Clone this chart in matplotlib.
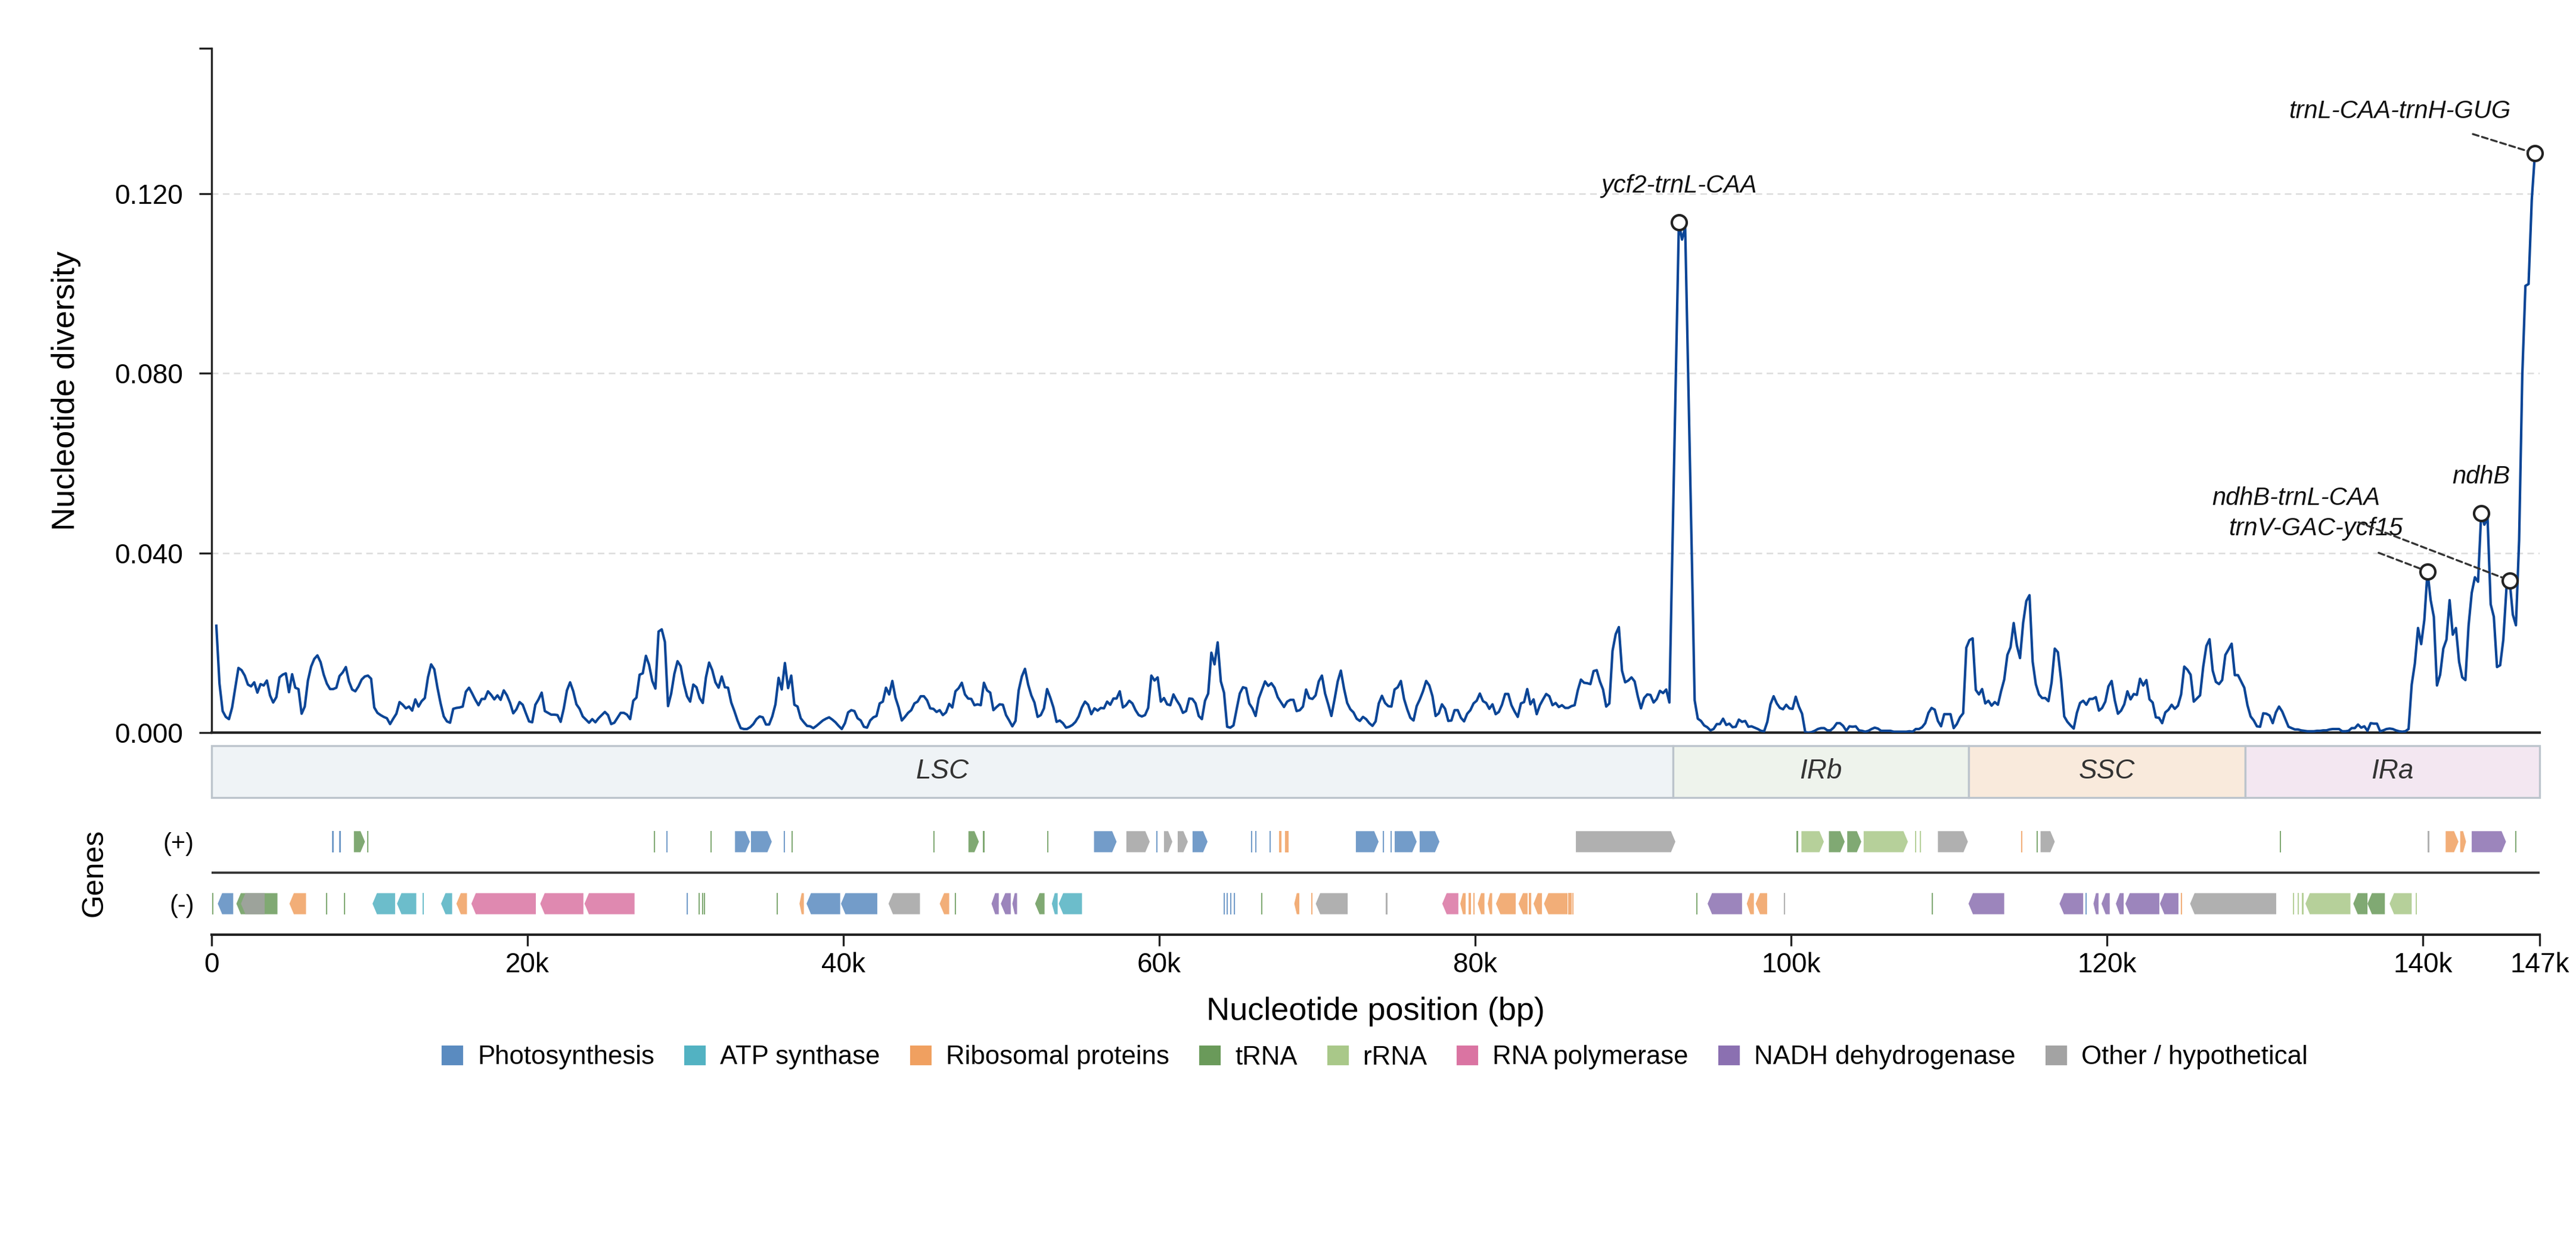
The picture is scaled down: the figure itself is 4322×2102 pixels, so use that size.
import numpy as np
import matplotlib
matplotlib.use("Agg")
import matplotlib.pyplot as plt
from matplotlib.patches import Polygon, Rectangle, Patch

plt.rcParams['font.family'] = ['Liberation Sans', 'DejaVu Sans']

# ---------------- data ----------------
genome_len = 147400
win_start = 300
win_step = 200

# nucleotide diversity per window (pi)
pi_values = [
    # 0.3k - 24.5k
    0.0238, 0.0109, 0.0048, 0.0035, 0.0030, 0.0056, 0.0100, 0.0144, 0.0139, 0.0127,
    0.0107, 0.0103, 0.0112, 0.0089, 0.0108, 0.0105, 0.0116, 0.0083, 0.0067, 0.0079,
    0.0123, 0.0129, 0.0132, 0.0090, 0.0130, 0.0100, 0.0097, 0.0042, 0.0058, 0.0116,
    0.0147, 0.0164, 0.0172, 0.0157, 0.0129, 0.0109, 0.0097, 0.0097, 0.0100, 0.0126,
    0.0134, 0.0146, 0.0114, 0.0096, 0.0092, 0.0103, 0.0118, 0.0125, 0.0127, 0.0120,
    0.0056, 0.0044, 0.0039, 0.0035, 0.0032, 0.0019, 0.0031, 0.0042, 0.0068, 0.0062,
    0.0054, 0.0058, 0.0049, 0.0074, 0.0058, 0.0070, 0.0077, 0.0123, 0.0152, 0.0141,
    0.0100, 0.0065, 0.0036, 0.0025, 0.0022, 0.0053, 0.0055, 0.0056, 0.0058, 0.0091,
    0.0100, 0.0087, 0.0073, 0.0061, 0.0075, 0.0075, 0.0092, 0.0084, 0.0074, 0.0083,
    0.0073, 0.0094, 0.0083, 0.0066, 0.0043, 0.0052, 0.0068, 0.0062, 0.0043, 0.0025,
    0.0023, 0.0062, 0.0074, 0.0089, 0.0048, 0.0044, 0.0040, 0.0040, 0.0039, 0.0024,
    0.0054, 0.0094, 0.0112, 0.0092, 0.0063, 0.0053, 0.0036, 0.0029, 0.0022, 0.0030,
    0.0023, 0.0032,
    # 24.7k - 49.1k
    0.0039, 0.0046, 0.0039, 0.0019, 0.0022, 0.0033, 0.0044, 0.0044, 0.0040, 0.0030,
    0.0071, 0.0078, 0.0129, 0.0132, 0.0171, 0.0151, 0.0115, 0.0098, 0.0225, 0.0230,
    0.0202, 0.0059, 0.0087, 0.0131, 0.0159, 0.0148, 0.0109, 0.0081, 0.0069, 0.0107,
    0.0101, 0.0077, 0.0066, 0.0123, 0.0156, 0.0139, 0.0112, 0.0100, 0.0125, 0.0101,
    0.0100, 0.0067, 0.0048, 0.0027, 0.0010, 0.0008, 0.0008, 0.0012, 0.0019, 0.0030,
    0.0036, 0.0034, 0.0018, 0.0018, 0.0036, 0.0063, 0.0122, 0.0096, 0.0155, 0.0099,
    0.0127, 0.0062, 0.0058, 0.0032, 0.0023, 0.0015, 0.0014, 0.0010, 0.0015, 0.0021,
    0.0027, 0.0031, 0.0034, 0.0029, 0.0023, 0.0015, 0.0008, 0.0021, 0.0045, 0.0050,
    0.0048, 0.0032, 0.0027, 0.0013, 0.0011, 0.0027, 0.0034, 0.0037, 0.0065, 0.0069,
    0.0100, 0.0085, 0.0115, 0.0078, 0.0056, 0.0027, 0.0035, 0.0044, 0.0050, 0.0065,
    0.0069, 0.0081, 0.0081, 0.0072, 0.0054, 0.0053, 0.0046, 0.0050, 0.0039, 0.0045,
    0.0064, 0.0056, 0.0092, 0.0099, 0.0111, 0.0085, 0.0076, 0.0075, 0.0061, 0.0063,
    0.0061, 0.0111, 0.0094,
    # 49.3k - 73.5k
    0.0089, 0.0050, 0.0057, 0.0063, 0.0062, 0.0039, 0.0027, 0.0014, 0.0026, 0.0094,
    0.0125, 0.0142, 0.0107, 0.0083, 0.0067, 0.0035, 0.0039, 0.0054, 0.0097, 0.0078,
    0.0056, 0.0024, 0.0027, 0.0021, 0.0011, 0.0013, 0.0017, 0.0024, 0.0036, 0.0056,
    0.0069, 0.0062, 0.0041, 0.0054, 0.0049, 0.0055, 0.0054, 0.0069, 0.0062, 0.0076,
    0.0076, 0.0092, 0.0056, 0.0061, 0.0071, 0.0065, 0.0050, 0.0039, 0.0036, 0.0039,
    0.0055, 0.0127, 0.0116, 0.0123, 0.0069, 0.0077, 0.0063, 0.0061, 0.0085, 0.0072,
    0.0061, 0.0044, 0.0048, 0.0076, 0.0075, 0.0065, 0.0037, 0.0030, 0.0071, 0.0087,
    0.0178, 0.0152, 0.0201, 0.0114, 0.0089, 0.0013, 0.0011, 0.0016, 0.0052, 0.0087,
    0.0101, 0.0099, 0.0065, 0.0054, 0.0037, 0.0076, 0.0095, 0.0114, 0.0104, 0.0110,
    0.0100, 0.0079, 0.0068, 0.0057, 0.0069, 0.0073, 0.0073, 0.0048, 0.0050, 0.0058,
    0.0096, 0.0077, 0.0075, 0.0083, 0.0114, 0.0127, 0.0087, 0.0063, 0.0037, 0.0074,
    0.0114, 0.0138, 0.0098, 0.0066, 0.0052, 0.0045, 0.0031, 0.0026, 0.0035, 0.0030,
    0.0021, 0.0015,
    # 73.7k - 98.1k
    0.0025, 0.0065, 0.0082, 0.0066, 0.0059, 0.0058, 0.0096, 0.0101, 0.0115, 0.0075,
    0.0052, 0.0033, 0.0027, 0.0059, 0.0074, 0.0092, 0.0115, 0.0105, 0.0081, 0.0037,
    0.0043, 0.0063, 0.0053, 0.0026, 0.0027, 0.0050, 0.0050, 0.0033, 0.0025, 0.0042,
    0.0050, 0.0065, 0.0071, 0.0087, 0.0070, 0.0066, 0.0053, 0.0063, 0.0041, 0.0046,
    0.0062, 0.0086, 0.0086, 0.0061, 0.0047, 0.0035, 0.0065, 0.0068, 0.0097, 0.0063,
    0.0074, 0.0041, 0.0061, 0.0074, 0.0086, 0.0081, 0.0061, 0.0066, 0.0057, 0.0061,
    0.0055, 0.0055, 0.0059, 0.0061, 0.0094, 0.0118, 0.0111, 0.0110, 0.0108, 0.0137,
    0.0139, 0.0114, 0.0096, 0.0058, 0.0065, 0.0182, 0.0219, 0.0235, 0.0138, 0.0112,
    0.0116, 0.0123, 0.0114, 0.0081, 0.0054, 0.0077, 0.0085, 0.0084, 0.0067, 0.0075,
    0.0093, 0.0088, 0.0096, 0.0067, 0.0420, 0.0780, 0.1136, 0.1098, 0.1125, 0.0780,
    0.0430, 0.0072, 0.0031, 0.0026, 0.0016, 0.0012, 0.0005, 0.0008, 0.0019, 0.0019,
    0.0031, 0.0017, 0.0020, 0.0012, 0.0013, 0.0029, 0.0024, 0.0026, 0.0013, 0.0014,
    0.0011, 0.0008, 0.0004,
    # 98.3k - 122.7k
    0.0003, 0.0024, 0.0063, 0.0081, 0.0065, 0.0055, 0.0052, 0.0062, 0.0054, 0.0053,
    0.0080, 0.0058, 0.0042, 0.0001, 0.0000, 0.0001, 0.0004, 0.0008, 0.0010, 0.0010,
    0.0005, 0.0005, 0.0011, 0.0021, 0.0021, 0.0015, 0.0004, 0.0014, 0.0013, 0.0014,
    0.0005, 0.0004, 0.0002, 0.0004, 0.0008, 0.0011, 0.0009, 0.0004, 0.0004, 0.0004,
    0.0004, 0.0002, 0.0002, 0.0002, 0.0002, 0.0002, 0.0003, 0.0002, 0.0008, 0.0008,
    0.0012, 0.0021, 0.0044, 0.0055, 0.0051, 0.0026, 0.0014, 0.0041, 0.0041, 0.0041,
    0.0010, 0.0019, 0.0034, 0.0043, 0.0189, 0.0206, 0.0210, 0.0095, 0.0085, 0.0097,
    0.0065, 0.0071, 0.0060, 0.0068, 0.0062, 0.0092, 0.0118, 0.0173, 0.0190, 0.0244,
    0.0194, 0.0166, 0.0245, 0.0293, 0.0306, 0.0158, 0.0108, 0.0085, 0.0077, 0.0077,
    0.0070, 0.0112, 0.0187, 0.0179, 0.0118, 0.0036, 0.0024, 0.0016, 0.0009, 0.0044,
    0.0066, 0.0071, 0.0062, 0.0075, 0.0075, 0.0079, 0.0049, 0.0055, 0.0069, 0.0103,
    0.0115, 0.0072, 0.0042, 0.0049, 0.0063, 0.0092, 0.0074, 0.0086, 0.0084, 0.0120,
    0.0105, 0.0117, 0.0074,
    # 122.9k - 147.1k
    0.0067, 0.0034, 0.0033, 0.0021, 0.0045, 0.0051, 0.0062, 0.0053, 0.0060, 0.0085,
    0.0147, 0.0140, 0.0129, 0.0069, 0.0076, 0.0083, 0.0147, 0.0193, 0.0208, 0.0138,
    0.0113, 0.0108, 0.0117, 0.0173, 0.0185, 0.0198, 0.0128, 0.0128, 0.0114, 0.0100,
    0.0061, 0.0036, 0.0027, 0.0014, 0.0013, 0.0043, 0.0042, 0.0038, 0.0021, 0.0045,
    0.0058, 0.0047, 0.0030, 0.0013, 0.0010, 0.0007, 0.0007, 0.0005, 0.0004, 0.0003,
    0.0003, 0.0003, 0.0004, 0.0004, 0.0005, 0.0005, 0.0007, 0.0008, 0.0008, 0.0008,
    0.0003, 0.0003, 0.0004, 0.0010, 0.0010, 0.0018, 0.0011, 0.0014, 0.0004, 0.0021,
    0.0020, 0.0020, 0.0003, 0.0005, 0.0008, 0.0009, 0.0008, 0.0005, 0.0003, 0.0002,
    0.0003, 0.0008, 0.0107, 0.0154, 0.0233, 0.0197, 0.0251, 0.0359, 0.0295, 0.0258,
    0.0105, 0.0129, 0.0187, 0.0207, 0.0295, 0.0218, 0.0233, 0.0158, 0.0123, 0.0117,
    0.0238, 0.0311, 0.0346, 0.0336, 0.0488, 0.0463, 0.0479, 0.0286, 0.0258, 0.0146,
    0.0150, 0.0207, 0.0322, 0.0339, 0.0263, 0.0239, 0.0428, 0.0795, 0.0995, 0.0999,
    0.1186, 0.1290,
]

# annotated hotspots
ann_labels = ['ycf2-trnL-CAA', 'trnV-GAC-ycf15', 'ndhB', 'ndhB-trnL-CAA', 'trnL-CAA-trnH-GUG']
ann_pos = [92900, 140300, 143700, 145500, 147100]

# genome regions
region_names = ['LSC', 'IRb', 'SSC', 'IRa']
region_bounds = [0, 92520, 111240, 128750, 147400]

# genes: start, end, category  (P photosynthesis, A ATP, R ribosomal, T tRNA,
# r rRNA, Pol RNA polymerase, N NADH, O other)
plus_start = [7640, 8090, 9010, 9850, 28000, 28800, 31590, 33140, 34150, 36230,
              36730, 45700, 47920, 48850, 52900, 55870, 57920, 59800, 60300, 61170,
              62110, 65800, 66060, 66970, 67570, 67960, 72450, 74150, 74640, 74910,
              76490, 86380, 100360, 100660, 102400, 103560, 104600, 107860, 108160, 109300,
              114560, 115560, 115800, 130960, 140320, 141450, 142370, 143100, 145860]
plus_end = [7740, 8190, 9710, 9930, 28080, 28880, 31670, 34080, 35470, 36310,
            36810, 45780, 48580, 48930, 52980, 57300, 59400, 59900, 60830, 61810,
            63060, 65900, 66160, 67070, 67740, 68190, 73890, 74240, 74730, 76300,
            77740, 92680, 100440, 102080, 103400, 104450, 107400, 107940, 108240, 111200,
            114640, 115640, 116700, 131040, 140400, 142260, 142740, 145270, 145940]
plus_cat = ['P', 'P', 'T', 'T', 'T', 'P', 'T', 'P', 'P', 'P',
            'T', 'T', 'T', 'T', 'T', 'P', 'O', 'P', 'O', 'O',
            'P', 'P', 'P', 'P', 'R', 'R', 'P', 'P', 'P', 'P',
            'P', 'O', 'T', 'r', 'T', 'T', 'r', 'r', 'r', 'O',
            'R', 'T', 'O', 'T', 'O', 'R', 'R', 'N', 'T']

minus_start = [40, 390, 1570, 1860, 4930, 7230, 8380, 10190, 11740, 13370,
               14530, 15500, 16450, 20810, 23610, 30090, 30830, 31040, 31170, 35780,
               37220, 37670, 39850, 42860, 46100, 47070, 49380, 49970, 50700, 52140,
               53200, 53640, 64070, 64280, 64490, 64700, 66450, 68550, 69620, 69910,
               74360, 77920, 79060, 79600, 79880, 80170, 80800, 81320, 82750, 83400,
               83700, 84360, 85890, 86160, 94000, 94720, 97200, 97760, 99540, 108890,
               111240, 117000, 118640, 119150, 119660, 120570, 121170, 123360, 124680, 125270,
               131760, 132060, 132360, 132570, 135600, 136500, 137900, 139560]
minus_end = [120, 1370, 4170, 3360, 5980, 7310, 8460, 11620, 12960, 13450,
             15230, 16170, 20530, 23540, 26780, 30170, 30910, 31120, 31250, 35860,
             37500, 39800, 42150, 44850, 46700, 47150, 49840, 50600, 51000, 52740,
             53570, 55110, 64150, 64360, 64570, 64780, 66530, 68870, 69700, 71930,
             74440, 78940, 79400, 79740, 79960, 80590, 81080, 82570, 83320, 83550,
             84230, 85850, 86110, 86240, 94080, 96900, 97650, 98490, 99620, 108970,
             113500, 118500, 118720, 119470, 120180, 121060, 123320, 124530, 124760, 130720,
             131840, 132140, 132440, 135420, 136500, 137600, 139300, 139640]
minus_cat = ['T', 'P', 'T', 'O', 'R', 'T', 'T', 'A', 'A', 'A',
             'A', 'R', 'Pol', 'Pol', 'Pol', 'P', 'T', 'T', 'T', 'T',
             'R', 'P', 'P', 'O', 'R', 'T', 'N', 'N', 'N', 'T',
             'A', 'A', 'P', 'P', 'P', 'P', 'T', 'R', 'R', 'O',
             'O', 'Pol', 'R', 'R', 'R', 'R', 'R', 'R', 'R', 'R',
             'R', 'R', 'R', 'R', 'T', 'N', 'R', 'R', 'O', 'T',
             'N', 'N', 'P', 'N', 'N', 'N', 'N', 'N', 'R', 'O',
             'r', 'r', 'r', 'r', 'T', 'T', 'r', 'r']

cat_keys = ['P', 'A', 'R', 'T', 'r', 'Pol', 'N', 'O']
cat_names = ['Photosynthesis', 'ATP synthase', 'Ribosomal proteins', 'tRNA', 'rRNA',
             'RNA polymerase', 'NADH dehydrogenase', 'Other / hypothetical']
cat_colors = ['#5a8bc0', '#52b2c2', '#f0a060', '#6a9a5a', '#a9c889',
              '#da74a2', '#8b70b1', '#a3a3a3']
region_colors = ['#eff3f6', '#eef3ec', '#f9eadc', '#f3e7f1']

# ---------------- figure ----------------
W, H = 4322, 2102
fig = plt.figure(figsize=(W / 300, H / 300), dpi=300)
left, width = 355 / W, 3906 / W
ax = fig.add_axes([left, 1 - 1229 / H, width, (1229 - 81) / H])
ax_r = fig.add_axes([left, 1 - 1337.5 / H, width, 86.5 / H])
ax_g = fig.add_axes([left, 1 - 1568 / H, width, 208 / H])

pos = win_start + win_step * np.arange(len(pi_values))
pi = np.array(pi_values)
y_top = 0.1524

line_color = '#0b4596'
for y in (0.04, 0.08, 0.12):
    ax.axhline(y, color='#dcdcdc', lw=0.6, ls=(0, (4.4, 3)), zorder=1)
ax.plot(pos, pi, color=line_color, lw=1.0, zorder=3)
ax.set_xlim(0, genome_len)
ax.set_ylim(0, y_top)
ax.set_xticks([])
ax.set_yticks([0, 0.04, 0.08, 0.12, y_top])
ax.set_yticklabels(['0.000', '0.040', '0.080', '0.120', ''])
ax.tick_params(axis='y', length=5, width=0.8, color='#222222', labelsize=11, pad=6.5)
for s in ('top', 'right'):
    ax.spines[s].set_visible(False)
ax.spines['left'].set_linewidth(0.8)
ax.spines['left'].set_color('#222222')
ax.spines['bottom'].set_linewidth(1.0)
ax.spines['bottom'].set_color('#222222')
ax.set_ylabel('Nucleotide diversity', fontsize=13)
ax.yaxis.set_label_coords(-0.056, 0.5)

# hotspot labels
ann_offsets = [(0, 12), (-45, 14.5), (0, 12), (-86, 30.4), (-54.5, 14.3)]
ann_leader = [False, True, False, True, True]
for lab, p, off, lead in zip(ann_labels, ann_pos, ann_offsets, ann_leader):
    i = int(round((p - win_start) / win_step))
    x, y = pos[i], pi[i]
    ax.plot(x, y, 'o', ms=6, mfc='white', mec='#222222', mew=1.0, zorder=5, clip_on=False)
    props = None
    if lead:
        props = dict(arrowstyle='-', color='#333333', lw=0.8, ls=(0, (3, 1.8)),
                     shrinkA=8, shrinkB=3)
    ax.annotate(lab, (x, y), xytext=off, textcoords='offset points', ha='center',
                va='baseline', fontsize=10, style='italic', color='#111111',
                arrowprops=props, zorder=6, annotation_clip=False)

# region bar
for name, s, e, c in zip(region_names, region_bounds[:-1], region_bounds[1:], region_colors):
    ax_r.add_patch(Rectangle((s, 0), e - s, 1, facecolor=c, edgecolor='#bcc4cc',
                             lw=0.8, clip_on=False))
    ax_r.text((s + e) / 2, 0.5, name, ha='center', va='center', fontsize=11,
              style='italic', color='#333333')
ax_r.set_xlim(0, genome_len)
ax_r.set_ylim(0, 1)
ax_r.axis('off')

# gene track
col = dict(zip(cat_keys, cat_colors))
head = 280
box_h = 0.34


def gene_shape(s, e, strand, yc):
    y0, y1 = yc - box_h / 2, yc + box_h / 2
    hl = min(head, 0.5 * (e - s)) if e - s > 250 else 0
    if strand > 0:
        return [(s, y0), (e - hl, y0), (e, yc), (e - hl, y1), (s, y1)]
    return [(e, y0), (s + hl, y0), (s, yc), (s + hl, y1), (e, y1)]


for s, e, c in zip(plus_start, plus_end, plus_cat):
    ax_g.add_patch(Polygon(gene_shape(s, e, 1, 0.5), closed=True, facecolor=col[c],
                           edgecolor='none', alpha=0.85))
for s, e, c in zip(minus_start, minus_end, minus_cat):
    ax_g.add_patch(Polygon(gene_shape(s, e, -1, -0.5), closed=True, facecolor=col[c],
                           edgecolor='none', alpha=0.85))

ax_g.axhline(0, color='#333333', lw=0.9)
ax_g.set_xlim(0, genome_len)
ax_g.set_ylim(-1, 1)
for s in ('top', 'right', 'left'):
    ax_g.spines[s].set_visible(False)
ax_g.spines['bottom'].set_linewidth(1.0)
ax_g.spines['bottom'].set_color('#222222')
ax_g.set_yticks([0.5, -0.5])
ax_g.set_yticklabels(['(+)', '(-)'])
ax_g.tick_params(axis='y', length=0, labelsize=10, pad=7)
xt = [0, 20000, 40000, 60000, 80000, 100000, 120000, 140000, genome_len]
ax_g.set_xticks(xt)
ax_g.set_xticklabels(['0'] + [f'{v // 1000}k' for v in xt[1:-1]] + [f'{genome_len // 1000}k'])
ax_g.tick_params(axis='x', length=4.5, width=0.8, color='#222222', labelsize=11, pad=2.5)
ax_g.set_ylabel('Genes', fontsize=12)
ax_g.yaxis.set_label_coords(-0.0443, 0.5)
ax_g.set_xlabel('Nucleotide position (bp)', fontsize=13)
ax_g.xaxis.set_label_coords(0.5, -0.50)

handles = [Patch(facecolor=c, edgecolor='none') for c in cat_colors]
fig.legend(handles, cat_names, loc='center', bbox_to_anchor=(0.5336, 1 - 1774 / H),
           ncol=8, frameon=False, fontsize=10.5, handlelength=0.82, handleheight=0.8,
           handletextpad=0.55, columnspacing=1.15)

fig.savefig('out.png', dpi=300)
